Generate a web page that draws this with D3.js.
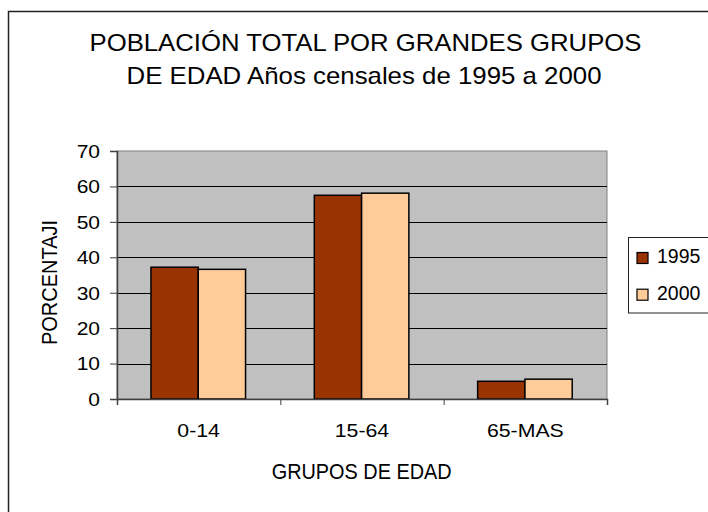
<!DOCTYPE html>
<html><head><meta charset="utf-8">
<script src="https://cdn.jsdelivr.net/npm/d3@7"></script>
<style>
body{margin:0;background:#fff;}
text{font-family:"Liberation Sans",Arial,sans-serif;fill:#000;}
</style></head>
<body><svg id="c" width="708" height="512"></svg>
<script>
const categories = ["0-14","15-64","65-MAS"];
const series = ["1995","2000"];
const values1995 = [37.2, 57.5, 5.0];
const values2000 = [36.6, 58.1, 5.6];
const yTicks = [0,10,20,30,40,50,60,70];
const titleLines = ["POBLACIÓN TOTAL POR GRANDES GRUPOS","DE EDAD Años censales de 1995 a 2000"];
const xTitle = "GRUPOS DE EDAD";
const yTitle = "PORCENTAJI";
const colors = {"1995":"#993300","2000":"#FFCC99"};

const data = categories.map((c,i)=>({cat:c, vals:[{s:"1995",v:values1995[i]},{s:"2000",v:values2000[i]}]}));

const svg = d3.select("#c");
const L=117, R=607, T=151, B=399;

// outer frame
svg.append("rect").attr("x",8.5).attr("y",11.5).attr("width",760).attr("height",560)
  .attr("fill","#fff").attr("stroke","#222").attr("stroke-width",1.5);

function fit(sel, w){ sel.attr("textLength", w).attr("lengthAdjust","spacingAndGlyphs"); }
function stretch(sel, f){ sel.each(function(){ const l=this.getComputedTextLength(); d3.select(this).attr("textLength", l*f).attr("lengthAdjust","spacingAndGlyphs"); }); }

// title
const t1 = svg.append("text").attr("x",365.5).attr("y",50.7).attr("text-anchor","middle").style("font-size","24px").text(titleLines[0]);
fit(t1,552);
const t2 = svg.append("text").attr("x",364).attr("y",84).attr("text-anchor","middle").style("font-size","24px").text(titleLines[1]);
fit(t2,475);

const x0 = d3.scaleBand().domain(categories).range([L,R]).padding(0);
const bw = x0.bandwidth();
const x1 = d3.scaleBand().domain(series).range([bw*0.208, bw*0.787]).padding(0);
const y = d3.scaleLinear().domain([0,70]).range([B,T]);

// plot area
svg.append("rect").attr("x",L).attr("y",T).attr("width",R-L).attr("height",B-T)
  .attr("fill","#C0C0C0").attr("stroke","#808080").attr("stroke-width",1);

// gridlines
svg.append("g").selectAll("line").data(yTicks.filter(d=>d>0&&d<70)).join("line")
  .attr("x1",L).attr("x2",R).attr("y1",d=>Math.round(y(d))+0.5).attr("y2",d=>Math.round(y(d))+0.5)
  .attr("stroke","#000").attr("stroke-width",1);

// bars
const g = svg.append("g").selectAll("g").data(data).join("g")
  .attr("transform",d=>`translate(${x0(d.cat)},0)`);
g.selectAll("rect").data(d=>d.vals).join("rect")
  .attr("x",d=>x1(d.s)).attr("width",x1.bandwidth())
  .attr("y",d=>y(d.v)).attr("height",d=>B-y(d.v))
  .attr("fill",d=>colors[d.s]).attr("stroke","#000").attr("stroke-width",1.5);

// y axis
const ya = svg.append("g").attr("transform",`translate(${L},0)`)
  .call(d3.axisLeft(y).tickValues(yTicks).tickSize(7).tickPadding(10));
ya.select(".domain").attr("stroke","#404040").attr("stroke-width",1.5);
ya.selectAll(".tick line").attr("stroke","#404040");
ya.selectAll(".tick text").style("font-size","17.5px").attr("font-family",null).attr("x",-17).attr("dy","0.36em");
ya.selectAll(".tick text").each(function(){ const l=this.getComputedTextLength(); d3.select(this).attr("textLength",l*1.2).attr("lengthAdjust","spacingAndGlyphs"); });

// x axis
const xa = svg.append("g").attr("transform",`translate(0,${B})`)
  .call(d3.axisBottom(d3.scaleLinear().domain([0,3]).range([L,R])).tickValues([0,1,2,3]).tickSize(6).tickFormat(""));
xa.select(".domain").attr("stroke","#404040").attr("stroke-width",1.5);
xa.selectAll(".tick line").attr("stroke","#404040");
svg.append("g").selectAll("text").data(categories).join("text")
  .attr("x",d=>x0(d)+bw/2).attr("y",437.3).attr("text-anchor","middle").style("font-size","18.5px")
  .text(d=>d).call(stretch,1.15);

// axis titles
const xt = svg.append("text").attr("x",361.7).attr("y",479.3).attr("text-anchor","middle").style("font-size","22px").text(xTitle);
fit(xt,180);
const yt = svg.append("text").attr("transform","translate(57,282.5) rotate(-90)").attr("text-anchor","middle").style("font-size","22px").text(yTitle);
fit(yt,125);

// legend
svg.append("rect").attr("x",628.5).attr("y",237.5).attr("width",120).attr("height",75.5)
  .attr("fill","#fff").attr("stroke","#222").attr("stroke-width",1);
const lg = svg.append("g").selectAll("g").data(series).join("g")
  .attr("transform",(d,i)=>`translate(0,${i*36.7})`);
lg.append("rect").attr("x",637).attr("y",252.5).attr("width",11).attr("height",11)
  .attr("fill",d=>colors[d]).attr("stroke","#000").attr("stroke-width",1.2);
lg.append("text").attr("x",657).attr("y",263.3).style("font-size","19.5px").text(d=>d);
</script></body></html>
